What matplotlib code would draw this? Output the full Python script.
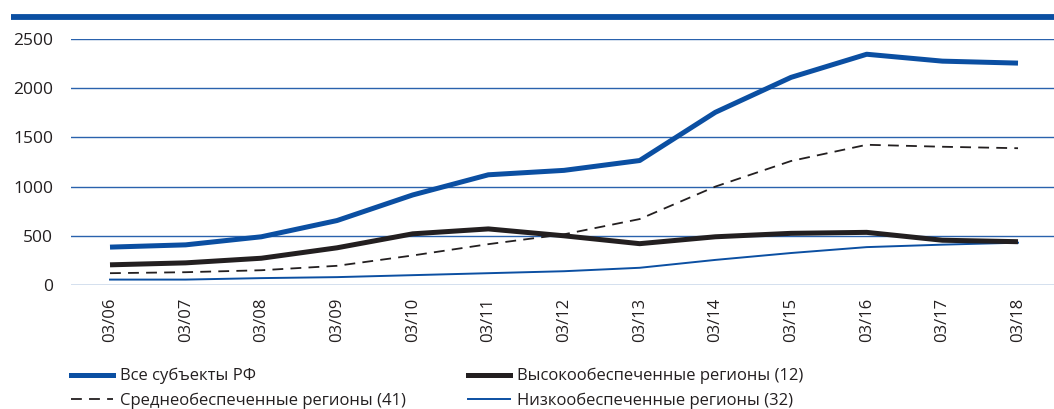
import matplotlib
matplotlib.use("Agg")
import matplotlib.pyplot as plt
from matplotlib.lines import Line2D

plt.rcParams['font.family'] = ['Open Sans', 'DejaVu Sans']

years = ["03/06", "03/07", "03/08", "03/09", "03/10", "03/11", "03/12",
         "03/13", "03/14", "03/15", "03/16", "03/17", "03/18"]
all_rf = [385, 408, 490, 655, 915, 1120, 1165, 1265, 1755, 2110, 2345, 2275, 2255]
high = [205, 225, 272, 378, 520, 570, 500, 420, 490, 525, 535, 455, 440]
mid = [120, 130, 150, 195, 300, 415, 515, 670, 1000, 1260, 1425, 1405, 1390]
low = [55, 55, 70, 80, 100, 120, 140, 175, 255, 325, 385, 410, 430]
yticks = [0, 500, 1000, 1500, 2000, 2500]

BLUE = "#0b4fa2"
GRID = "#2a62ad"
DARK = "#231f20"

fig = plt.figure(figsize=(10.54, 4.09), dpi=100)
W, H = 1054, 409
ax = fig.add_axes([71 / W, 1 - 285 / H, (1054 - 71) / W, (285 - 39) / H])

x = list(range(len(years)))
ax.plot(x, all_rf, color=BLUE, lw=3.6, solid_capstyle='butt', zorder=5)
ax.plot(x, high, color=DARK, lw=3.6, solid_capstyle='butt', zorder=4)
ax.plot(x, mid, color=DARK, lw=1.3, ls=(0, (6, 4)), zorder=3)
ax.plot(x, low, color=BLUE, lw=1.4, zorder=3)

ax.set_ylim(0, 2500)
step = (1018 - 110) / 12
ax.set_xlim(-(110 - 71) / step, (1054 - 110) / step)
ax.set_yticks(yticks)
ax.set_yticklabels([str(v) for v in yticks])
ax.set_xticks(x)
ax.set_xticklabels(years, rotation=90)
ax.tick_params(axis='both', length=0, colors="#231f20")
ax.tick_params(axis='y', pad=13, labelsize=12.5)
ax.tick_params(axis='x', pad=9, labelsize=12)
ax.grid(axis='y', color=GRID, lw=1.0)
ax.set_axisbelow(True)
for s in ax.spines.values():
    s.set_visible(False)

# top thick bar
fig.add_artist(Line2D([11 / W, 1.0], [1 - 16.5 / H, 1 - 16.5 / H], color=BLUE, lw=4.2,
                      transform=fig.transFigure, solid_capstyle='butt'))

handles = [
    Line2D([], [], color=BLUE, lw=3.6),
    Line2D([], [], color=DARK, lw=1.3, ls=(0, (6, 4))),
    Line2D([], [], color=DARK, lw=3.6),
    Line2D([], [], color=BLUE, lw=1.4),
]
labels = ["Все субъекты РФ", "Среднеобеспеченные регионы (41)",
          "Высокообеспеченные регионы (12)", "Низкообеспеченные регионы (32)"]
leg = fig.legend(handles, labels, ncol=2, loc='upper left',
                 bbox_to_anchor=(71 / W, 1 - 368 / H), frameon=False,
                 fontsize=12, handlelength=2.5, handletextpad=0.42,
                 columnspacing=3.75, labelspacing=0.48, borderaxespad=0,
                 borderpad=0)
for t in leg.get_texts():
    t.set_color("#231f20")

fig.savefig("out.png", dpi=100)
